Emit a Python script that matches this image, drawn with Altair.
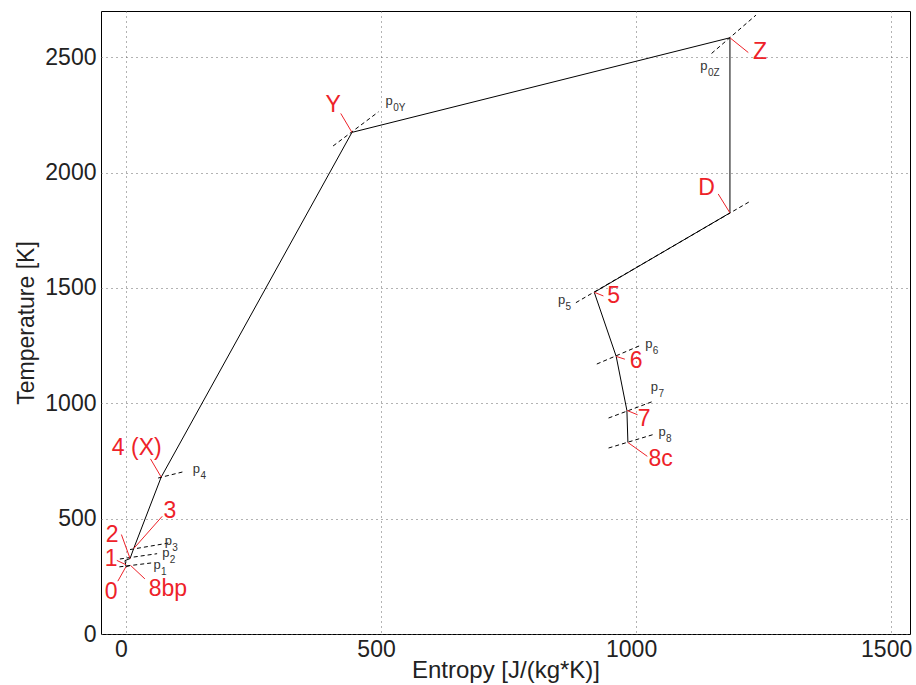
import altair as alt
import pandas as pd

# ---- cycle states: entropy [J/(kg*K)], temperature [K] (path order) ----
state_names = ["8bp", "0", "1", "2", "3", "4 (X)", "Y", "Z", "D", "5", "6", "7", "8c"]
state_s = [8, 0, -2, 8, 15, 69, 443, 1184, 1184, 918, 961, 982, 984]
state_T = [297, 292, 318, 327, 370, 680, 2174, 2584, 1825, 1481, 1203, 969, 830]

# ---- isobar segments (dashed) ----
isobar_names = ["p1", "p2", "p3", "p4", "p0Y", "p0Z", "p5", "p6", "p7", "p8"]
isobar_s0 = [-13, -12, 8, 63, 406, 1148, 882, 923, 946, 946]
isobar_T0 = [291, 325, 366, 676, 2115, 2516, 1436, 1170, 936, 806]
isobar_s1 = [50, 61, 83, 116, 495, 1235, 1225, 1011, 1033, 1033]
isobar_T1 = [308, 348, 394, 705, 2263, 2682, 1877, 1253, 1008, 864]
isobar_sub = ["1", "2", "3", "4", "0Y", "0Z", "5", "6", "7", "8"]
isobar_label_s = [61, 78, 83, 138, 516, 1133, 854, 1025, 1036, 1051]
isobar_label_T = [301, 353, 403, 716, 2310, 2461, 1448, 1258, 1071, 877]

# ---- red state labels and leader lines ----
label_text = ["Y", "Z", "D", "5", "6", "7", "8c", "4 (X)", "3", "2", "1", "0", "8bp"]
label_s = [406, 1243, 1138, 956, 1000, 1016, 1048, 21, 86, -27, -29, -29, 82]
label_T = [2292, 2522, 1933, 1465, 1182, 933, 760, 808, 535, 431, 327, 180, 193]
leader_s0 = [421, 1220, 1161, 936, 978, 1003, 1022, 48, 71, -9, -18, -16, 37]
leader_T0 = [2256, 2520, 1907, 1465, 1191, 950, 770, 759, 510, 431, 319, 229, 239]
leader_s1 = [443, 1184, 1184, 918, 961, 982, 984, 69, 15, 8, 0, 0, 9]
leader_T1 = [2174, 2584, 1825, 1481, 1203, 969, 830, 680, 370, 327, 300, 292, 297]

x_ticks = [0, 500, 1000, 1500]
y_ticks = [0, 500, 1000, 1500, 2000, 2500]

FONT = "Liberation Sans"
RED = "#ee2229"

path_df = pd.DataFrame({"name": state_names, "s": state_s, "T": state_T,
                        "order": list(range(len(state_names)))})
iso_df = pd.DataFrame({"name": isobar_names, "s0": isobar_s0, "T0": isobar_T0,
                       "s1": isobar_s1, "T1": isobar_T1, "sub": isobar_sub,
                       "ls": isobar_label_s, "lT": isobar_label_T})
lab_df = pd.DataFrame({"text": label_text, "s": label_s, "T": label_T,
                       "s0": leader_s0, "T0": leader_T0, "s1": leader_s1, "T1": leader_T1})

xscale = alt.Scale(domain=[-49, 1537], nice=False, zero=False)
yscale = alt.Scale(domain=[0, 2700], nice=False, zero=False)

xaxis = alt.Axis(values=x_ticks, format="d", title="Entropy [J/(kg*K)]", grid=True, ticks=False,
                 domain=False, gridDash=[1, 4], gridColor="#666666", gridWidth=1,
                 labelFont=FONT, labelFontSize=23, labelColor="#222222", labelPadding=4,
                 labelOffset=-5,
                 titleFont=FONT, titleFontSize=24, titleFontWeight="normal",
                 titleColor="#222222", titlePadding=-3, labelFlush=False)
yaxis = alt.Axis(values=y_ticks, format="d", title="Temperature [K]", grid=True, ticks=False,
                 domain=False, gridDash=[1, 4], gridColor="#666666", gridWidth=1,
                 labelFont=FONT, labelFontSize=23, labelColor="#222222", labelPadding=5,
                 titleFont=FONT, titleFontSize=23, titleFontWeight="normal",
                 titleColor="#222222", titlePadding=6, labelFlush=False)

base_iso = alt.Chart(iso_df)
iso_lines = base_iso.mark_rule(color="black", strokeWidth=1, strokeDash=[4, 3]).encode(
    x=alt.X("s0:Q", scale=xscale, axis=xaxis),
    y=alt.Y("T0:Q", scale=yscale, axis=yaxis),
    x2="s1:Q", y2="T1:Q")

iso_p = base_iso.mark_text(font=FONT, fontSize=13, color="#333333",
                           align="center", baseline="middle").encode(
    x=alt.X("ls:Q", scale=xscale), y=alt.Y("lT:Q", scale=yscale), text=alt.value("p"))
iso_sub = base_iso.mark_text(font=FONT, fontSize=10, color="#333333",
                             align="left", baseline="middle", dx=4, dy=7).encode(
    x=alt.X("ls:Q", scale=xscale), y=alt.Y("lT:Q", scale=yscale), text="sub:N")

path = alt.Chart(path_df).mark_line(color="black", strokeWidth=1).encode(
    x=alt.X("s:Q", scale=xscale), y=alt.Y("T:Q", scale=yscale), order="order:Q")

base_lab = alt.Chart(lab_df)
leaders = base_lab.mark_rule(color=RED, strokeWidth=1).encode(
    x=alt.X("s0:Q", scale=xscale), y=alt.Y("T0:Q", scale=yscale),
    x2="s1:Q", y2="T1:Q")
labels = base_lab.mark_text(font=FONT, fontSize=23, color=RED,
                            align="center", baseline="middle").encode(
    x=alt.X("s:Q", scale=xscale), y=alt.Y("T:Q", scale=yscale), text="text:N")

chart = alt.layer(iso_lines, path, leaders, iso_p, iso_sub, labels).properties(
    width=809, height=623,
    autosize=alt.AutoSizeParams(type="none"),
    padding={"left": 101, "top": 11, "right": 6, "bottom": 51},
    background="white",
).configure_view(stroke="black", strokeWidth=1)

chart.save("out.html", embed_options={"renderer": "svg", "actions": False})
